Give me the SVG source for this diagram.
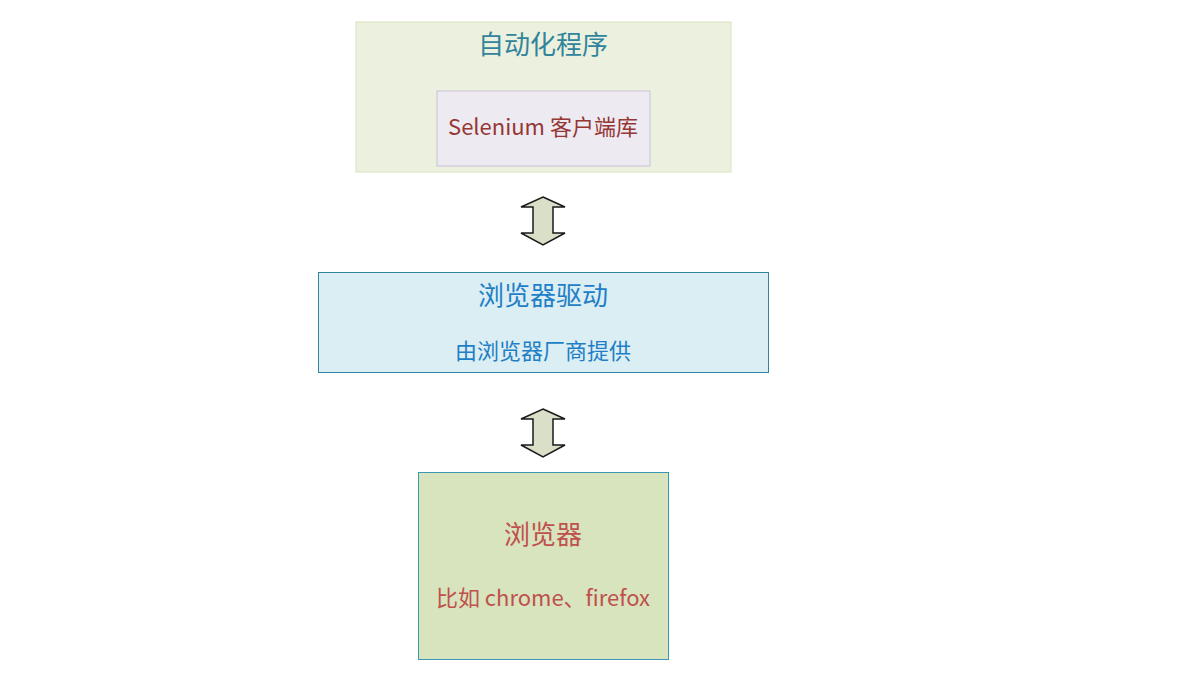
<svg xmlns="http://www.w3.org/2000/svg" width="1179" height="682" viewBox="0 0 1179 682">
<style>
text{font-family:"Microsoft YaHei","Noto Sans CJK SC","Noto Sans",sans-serif;text-anchor:middle}
.t{font-size:26px}
.s{font-size:22px}
.arrow{fill:#DAE0C8;stroke:#1a1a1a;stroke-width:1.5;stroke-linejoin:miter}
</style>
<rect width="1179" height="682" fill="#ffffff"/>
<g id="node-program">
<rect x="356" y="22" width="375" height="150" fill="#EBF1DE" stroke="#D7E4BD" stroke-width="1"/>
<text class="t" x="543" y="54" fill="#31849B">自动化程序</text>
</g>
<g id="node-selenium">
<rect x="437" y="91" width="213" height="75" fill="#EEEAF2" stroke="#CCC0DA" stroke-width="1"/>
<text class="s" x="543" y="135" fill="#953735">Selenium 客户端库</text>
</g>
<g id="node-driver">
<rect x="318.5" y="272.5" width="450" height="100" fill="#DAEEF3" stroke="#31859C" stroke-width="1"/>
<text class="t" x="543" y="305" fill="#1F7FC6">浏览器驱动</text>
<text class="s" x="543" y="359" fill="#1F7FC6">由浏览器厂商提供</text>
</g>
<g id="node-browser">
<rect x="418.5" y="472.5" width="250" height="187" fill="#D7E4BD" stroke="#3A98B4" stroke-width="1"/>
<text class="t" x="543" y="544" fill="#C0504D">浏览器</text>
<text class="s" x="543" y="606" fill="#C0504D">比如 chrome、firefox</text>
</g>
<g id="connectors">
<path class="arrow" d="M543,197 L565,207 L553,207 L553,233 L565,233 L543,245 L521,233 L533,233 L533,207 L521,207 Z"/>
<path class="arrow" d="M543,409 L565,419 L553,419 L553,445 L565,445 L543,457 L521,445 L533,445 L533,419 L521,419 Z"/>
</g>
</svg>
